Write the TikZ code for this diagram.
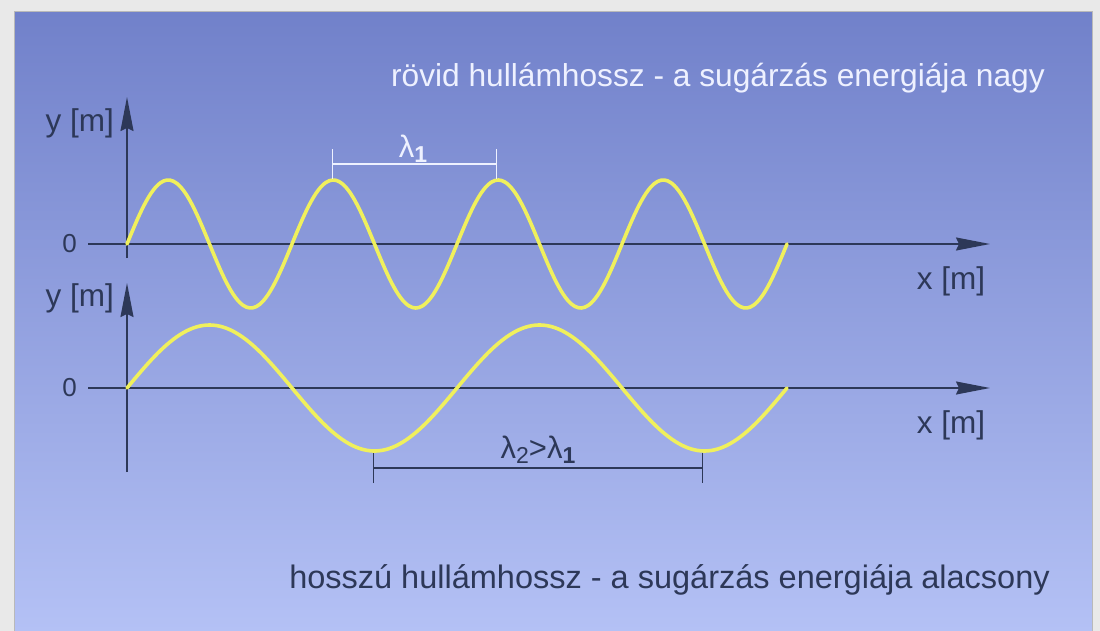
\documentclass[tikz,border=0pt]{standalone}
\usepackage{fontspec}
\setmainfont{Liberation Sans}
\usetikzlibrary{arrows.meta,positioning}
\definecolor{framegrey}{HTML}{E9E9E9}
\definecolor{frameline}{HTML}{B9B9B9}
\definecolor{skytop}{HTML}{7181CA}
\definecolor{skybottom}{HTML}{B4C1F5}
\definecolor{axisink}{HTML}{2D3858}
\definecolor{waveyellow}{HTML}{F0F05C}
\definecolor{chalk}{HTML}{EEF1FF}

\begin{document}
\begin{tikzpicture}[
  x=1pt, y=-1pt,
  axis/.style={
    draw=axisink,
    line width=1.6pt,
    -{Stealth[length=34pt,width=13pt,inset=3pt]}
  },
  wave/.style={
    draw=waveyellow,
    line width=3.6pt,
    line cap=round,
    line join=round
  },
  span/.style={
    line width=1.4pt,
    {Bar[width=30pt]}-{Bar[width=30pt]}
  },
  caption/.style={
    font=\fontsize{32}{36}\selectfont,
    inner sep=0pt
  },
  unit/.style={
    font=\fontsize{31.5}{35}\selectfont,
    text=axisink,
    inner sep=0pt
  }
]
  \useasboundingbox (0,0) rectangle (1100,631);

  % Frame and blue panel
  \fill[framegrey] (0,0) rectangle (1100,631);
  \shade[top color=skytop, bottom color=skybottom] (14,12) rectangle (1092,631);
  \draw[frameline, line width=1pt] (14,631) -- (14,12) -- (1092,12) -- (1092,631);

  % Titles
  \node[caption, font=\fontsize{31.7}{36}\selectfont, text=chalk, anchor=east] (short) at (1045,78) {rövid hullámhossz - a sugárzás energiája nagy};
  \node[caption, font=\fontsize{32.5}{36}\selectfont, text=axisink, anchor=east] (long) at (1050,580) {hosszú hullámhossz - a sugárzás energiája alacsony};

  % --- UPPER GRAPH: short wavelength ---
  \coordinate (o1) at (127,244);
  \coordinate (x1a) at (88,244);
  \coordinate (x1b) at (990,244);
  \coordinate (y1a) at (127,258);
  \coordinate (y1b) at (127,97);
  \draw[axis] (x1a) -- (x1b);
  \draw[axis] (y1a) -- (y1b);
  \node[unit, font=\fontsize{26}{30}\selectfont, left=11pt of x1a] (zero1) {0};
  \node[unit, anchor=east] (ylab1) at (114,123) {y [m]};
  \node[unit] (xlab1) at (951,281) {x [m]};

  \draw[wave] plot[smooth, domain=0:660, samples=200] ({127+\x},{244-64*sin(\x/165*360)});

  % wavelength lambda_1 between two crests
  \coordinate (l1a) at (332,164);
  \coordinate (l1b) at (497,164);
  \draw[span, draw=chalk] (l1a) -- (l1b);
  \node[caption, font=\fontsize{31}{34}\selectfont, text=chalk] (lam1) at (413,149) {λ\raisebox{-0.3ex}{\fontsize{23}{25}\selectfont\bfseries 1}};

  % --- LOWER GRAPH: long wavelength ---
  \coordinate (o2) at (127,388);
  \coordinate (x2a) at (88,388);
  \coordinate (x2b) at (990,388);
  \coordinate (y2a) at (127,472);
  \coordinate (y2b) at (127,283);
  \draw[axis] (x2a) -- (x2b);
  \draw[axis] (y2a) -- (y2b);
  \node[unit, font=\fontsize{26}{30}\selectfont, left=11pt of x2a] (zero2) {0};
  \node[unit, anchor=east] (ylab2) at (114,298) {y [m]};
  \node[unit] (xlab2) at (951,425) {x [m]};

  \draw[wave] plot[smooth, domain=0:660, samples=200] ({127+\x},{388-63*sin(\x/330*360)});

  % wavelength lambda_2 between two troughs
  \coordinate (l2a) at (373,468);
  \coordinate (l2b) at (703,468);
  \draw[span, draw=axisink] (l2a) -- (l2b);
  \node[caption, font=\fontsize{31}{34}\selectfont, text=axisink] (lam2) at (538,450) {λ\raisebox{-0.3ex}{\fontsize{23}{25}\selectfont 2}>λ\raisebox{-0.3ex}{\fontsize{23}{25}\selectfont\bfseries 1}};

\end{tikzpicture}
\end{document}
